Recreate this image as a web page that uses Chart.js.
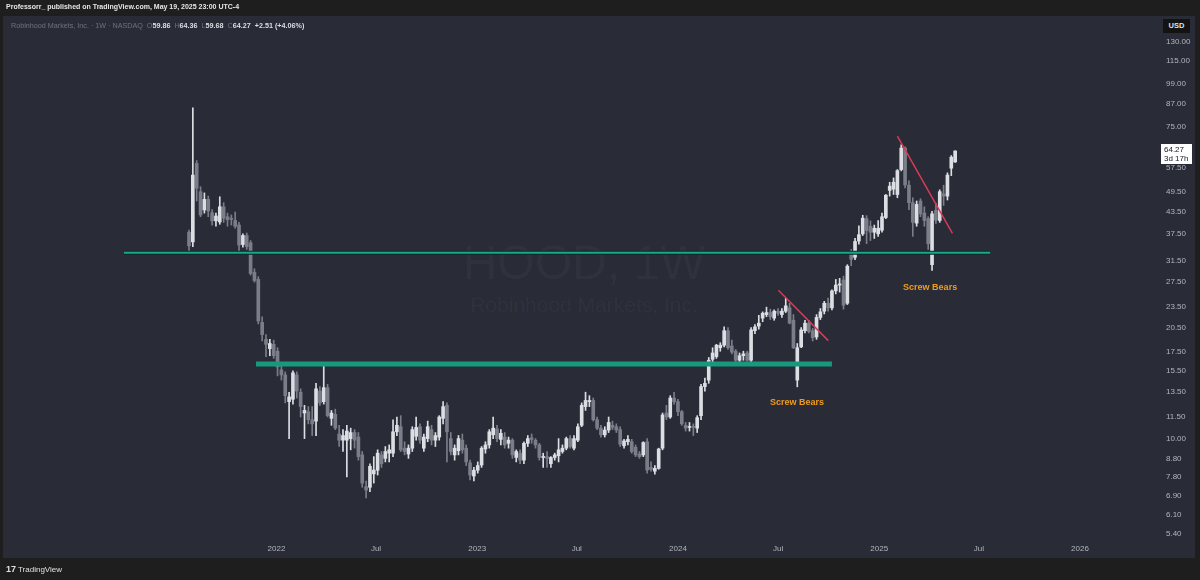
<!DOCTYPE html>
<html>
<head>
<meta charset="utf-8">
<title>HOOD, 1W</title>
<script src="https://cdn.jsdelivr.net/npm/chart.js@4.4.0/dist/chart.umd.min.js"></script>
<style>
  html, body { margin: 0; padding: 0; background: #1e1e1e; }
  #wrap { position: relative; width: 1200px; height: 580px; overflow: hidden; font-family: "Liberation Sans", Arial, sans-serif; }
  #pane { position: absolute; left: 3px; top: 16px; width: 1192px; height: 542px; background: #292c37; }
  .wm { position: absolute; left: 0; width: 1168px; text-align: center; color: rgba(255,255,255,0.035); line-height: 1; white-space: nowrap; }
  #wm1 { top: 239px; font-size: 48px; }
  #wm2 { top: 294px; font-size: 21px; }
  canvas { position: absolute; left: 0; top: 0; }
  #head1 { position: absolute; left: 6px; top: 3px; font-size: 7px; font-weight: bold; color: #e6e6e6; white-space: nowrap; }
  #head2 { position: absolute; left: 11px; top: 21px; font-size: 7.2px; color: #6f7280; white-space: nowrap; }
  #head2 b { color: #dcdee3; }
  #usd { position: absolute; left: 1163px; top: 19px; width: 27px; height: 14px; background: #131313; color: #e0e0e0; font-size: 7.5px; font-weight: bold; text-align: center; line-height: 14px; }
  #foot { position: absolute; left: 6px; top: 564px; font-size: 8px; color: #e0e0e0; white-space: nowrap; }
  #foot b { font-size: 9px; margin-right: 2px; }
</style>
</head>
<body>
<div id="wrap">
  <div id="pane"></div>
  <div class="wm" id="wm1">HOOD, 1W</div>
  <div class="wm" id="wm2">Robinhood Markets, Inc.</div>
  <canvas id="chart" width="1200" height="580"></canvas>
  <div id="head1">Professorr_ published on TradingView.com, May 19, 2025 23:00 UTC-4</div>
  <div id="head2">Robinhood Markets, Inc. · 1W · NASDAQ &nbsp;O<b>59.86</b> &nbsp;H<b>64.36</b> &nbsp;L<b>59.68</b> &nbsp;C<b>64.27</b> &nbsp;<b>+2.51 (+4.06%)</b></div>
  <div id="usd">USD</div>
  <div id="foot"><b>17</b>TradingView</div>
</div>
<script>
// weekly candles, week 0 = week of 2021-07-26
const firstWeek = '2021-07-26';

const opens = [
  38.0, 35.7, 59.3, 49.4, 43.9, 47.0, 43.1, 40.9, 40.6, 44.8,
  42.0, 41.6, 41.0, 39.8, 35.1, 37.2, 35.5, 29.3, 28.0, 21.2,
  19.0, 17.9, 18.4, 17.6, 15.6, 15.1, 12.7, 12.9, 15.1, 13.5,
  11.8, 11.9, 11.3, 11.2, 13.6, 12.7, 13.9, 11.4, 11.7, 10.3,
  9.9, 9.9, 10.0, 10.4, 10.1, 9.0, 7.33, 7.3, 7.96, 8.15,
  9.0, 8.8, 9.1, 9.1, 10.45, 10.8, 9.4, 9.05, 9.4, 10.15,
  10.8, 9.4, 10.0, 10.6, 9.9, 10.1, 11.4, 12.4, 10.0, 9.0,
  9.25, 9.9, 9.4, 8.55, 7.85, 8.15, 8.43, 9.35, 9.6, 10.25,
  10.65, 9.95, 10.1, 9.7, 9.9, 8.85, 9.1, 8.7, 9.7, 10.05,
  9.9, 9.6, 8.85, 8.9, 8.5, 8.85, 8.95, 9.2, 9.4, 10.0,
  9.4, 9.9, 10.9, 12.3, 12.7, 12.8, 11.3, 10.7, 10.25, 10.57,
  10.9, 10.8, 10.6, 9.55, 9.8, 9.8, 9.45, 9.05, 9.0, 9.8,
  8.3, 8.1, 8.25, 9.4, 11.8, 11.5, 13.0, 12.7, 11.9, 10.9,
  10.75, 10.8, 10.7, 11.6, 14.0, 14.6, 16.7, 17.0, 18.0, 18.3,
  20.1, 18.2, 17.6, 16.6, 17.1, 17.4, 16.6, 20.1, 20.7, 21.8,
  22.3, 22.6, 21.8, 22.8, 22.3, 22.8, 23.3, 21.5, 14.6, 18.1,
  20.1, 21.1, 20.1, 19.3, 21.9, 22.8, 24.0, 23.3, 26.0, 27.0,
  27.9, 24.0, 32.9, 32.3, 35.9, 37.6, 41.5, 39.5, 38.0, 37.6,
  38.5, 41.8, 49.8, 50.2, 48.5, 57.0, 65.5, 51.5, 46.0, 40.3,
  46.5, 43.0, 41.5, 30.8, 43.8, 41.0, 48.7, 48.0, 57.5, 59.86
];
const highs = [
  38.5, 85.0, 60.4, 51.0, 49.0, 48.0, 44.0, 43.0, 47.8, 46.0,
  43.0, 42.5, 43.3, 40.5, 37.6, 37.8, 36.0, 30.0, 28.5, 22.0,
  19.6, 19.0, 18.9, 18.0, 16.0, 15.4, 13.5, 15.5, 15.4, 13.8,
  12.4, 12.3, 12.3, 14.3, 14.0, 16.0, 14.2, 12.0, 12.1, 10.9,
  10.6, 10.9, 10.7, 10.6, 10.4, 9.2, 7.6, 8.5, 8.9, 9.3,
  9.2, 9.5, 9.6, 11.3, 11.5, 11.6, 9.8, 9.6, 10.8, 11.5,
  11.0, 10.3, 11.2, 10.9, 10.4, 11.6, 12.7, 12.6, 10.4, 9.6,
  10.2, 10.3, 9.6, 8.7, 8.3, 8.6, 9.5, 9.8, 10.6, 11.5,
  10.9, 10.6, 10.4, 10.1, 10.0, 9.3, 9.3, 9.8, 10.2, 10.3,
  10.0, 9.7, 9.1, 9.2, 8.9, 9.1, 10.0, 9.6, 10.1, 10.2,
  10.2, 11.0, 12.6, 13.5, 13.2, 13.0, 11.5, 10.9, 10.8, 11.5,
  11.2, 11.0, 10.8, 9.95, 10.2, 9.95, 9.6, 9.2, 9.8, 10.0,
  8.6, 8.4, 9.4, 11.8, 12.4, 13.2, 13.5, 12.9, 12.0, 11.1,
  11.1, 11.0, 11.6, 14.2, 14.8, 16.9, 18.0, 18.4, 18.6, 20.6,
  20.5, 18.9, 17.8, 17.4, 17.6, 17.6, 20.5, 20.9, 22.2, 22.7,
  23.4, 23.1, 23.0, 23.2, 23.2, 24.8, 24.0, 22.3, 18.5, 20.5,
  21.5, 21.5, 20.4, 22.3, 23.2, 24.3, 24.8, 26.2, 28.0, 28.2,
  28.6, 30.8, 34.0, 36.5, 39.6, 42.4, 42.3, 40.9, 39.8, 41.0,
  43.0, 48.5, 52.5, 54.0, 57.0, 66.9, 66.0, 53.0, 47.5, 46.5,
  47.2, 44.8, 42.0, 43.5, 45.8, 50.0, 51.5, 55.8, 62.4, 64.36
];
const lows = [
  33.2, 34.6, 46.5, 42.0, 43.0, 42.0, 39.8, 39.5, 40.0, 40.5,
  39.5, 39.8, 39.0, 33.6, 34.5, 34.0, 28.8, 27.5, 21.0, 18.8,
  17.0, 17.1, 16.8, 15.0, 14.6, 12.6, 10.0, 12.5, 13.0, 11.5,
  10.0, 11.0, 10.2, 10.2, 12.4, 12.5, 11.5, 10.9, 10.6, 9.5,
  9.2, 7.8, 9.3, 9.4, 8.7, 7.3, 6.81, 7.1, 7.5, 7.9,
  8.3, 8.6, 8.6, 8.9, 10.2, 9.2, 9.0, 8.8, 9.2, 9.9,
  9.7, 9.2, 9.8, 9.6, 9.5, 9.9, 11.0, 8.6, 9.0, 8.7,
  9.0, 9.1, 8.4, 7.65, 7.6, 8.0, 8.3, 9.1, 9.4, 10.0,
  9.8, 9.6, 9.4, 9.4, 8.8, 8.6, 8.5, 8.5, 9.5, 9.7,
  9.4, 8.7, 8.3, 8.3, 8.3, 8.7, 8.6, 9.1, 9.3, 9.4,
  9.3, 9.8, 10.8, 12.0, 12.3, 11.2, 10.6, 10.1, 10.1, 10.4,
  10.6, 10.4, 9.5, 9.4, 9.6, 9.1, 8.9, 8.8, 8.9, 8.0,
  8.1, 7.95, 8.2, 9.3, 11.3, 11.4, 12.5, 11.6, 10.9, 10.5,
  10.5, 10.2, 10.4, 11.3, 13.6, 14.3, 16.2, 16.8, 17.6, 18.1,
  17.8, 17.3, 16.3, 16.4, 16.6, 16.5, 16.4, 19.7, 20.3, 21.3,
  22.0, 21.6, 21.5, 22.2, 21.9, 22.6, 21.0, 17.9, 13.98, 18.0,
  19.8, 19.8, 18.8, 19.0, 21.6, 22.4, 22.8, 23.0, 25.5, 25.8,
  23.1, 23.8, 30.6, 31.8, 35.2, 37.2, 35.3, 36.0, 36.5, 37.0,
  38.0, 41.5, 48.0, 48.5, 47.5, 56.5, 50.6, 44.0, 37.0, 39.5,
  42.0, 39.5, 34.0, 29.66, 40.2, 40.5, 45.2, 46.8, 54.8, 59.68
];
const closes = [
  34.8, 55.0, 50.5, 42.5, 47.0, 43.6, 40.9, 42.2, 44.8, 41.6,
  41.2, 41.3, 39.5, 35.0, 37.2, 34.6, 29.1, 27.8, 21.4, 19.6,
  18.4, 18.5, 17.1, 15.9, 15.1, 13.2, 13.1, 15.3, 13.6, 12.3,
  12.0, 11.3, 11.0, 13.8, 12.6, 13.9, 11.6, 11.8, 10.7, 9.9,
  10.2, 10.5, 10.4, 9.9, 8.9, 7.5, 7.17, 8.36, 8.16, 9.1,
  8.5, 9.2, 9.3, 10.45, 10.9, 9.3, 9.2, 9.4, 10.6, 10.75,
  9.9, 10.1, 10.8, 9.9, 10.2, 11.5, 12.3, 10.45, 9.2, 9.4,
  10.0, 9.3, 8.6, 7.9, 8.15, 8.4, 9.4, 9.6, 10.45, 10.7,
  10.0, 10.35, 9.6, 9.9, 9.0, 9.2, 8.7, 9.7, 10.0, 9.95,
  9.6, 8.85, 8.9, 8.8, 8.85, 9.0, 9.3, 9.4, 10.0, 9.5,
  10.0, 10.8, 12.4, 12.8, 12.8, 11.3, 10.7, 10.25, 10.57, 11.1,
  10.75, 10.57, 9.65, 9.85, 9.95, 9.2, 9.0, 8.9, 9.75, 8.16,
  8.2, 8.25, 9.35, 11.65, 11.5, 13.0, 12.7, 11.9, 11.0, 10.7,
  10.8, 10.75, 11.45, 14.0, 14.3, 16.6, 17.4, 18.3, 18.3, 20.1,
  18.0, 17.5, 16.6, 17.1, 17.3, 16.6, 20.2, 20.6, 21.1, 22.5,
  22.6, 22.0, 22.8, 22.5, 22.8, 23.6, 21.1, 18.0, 18.0, 20.2,
  21.1, 20.0, 19.2, 21.9, 22.7, 24.0, 23.3, 26.0, 27.0, 27.2,
  23.7, 30.5, 31.9, 35.8, 37.4, 41.6, 38.4, 38.0, 39.0, 39.0,
  42.0, 48.3, 51.2, 52.5, 56.6, 65.5, 51.6, 46.0, 40.5, 45.5,
  42.8, 41.0, 35.3, 42.8, 41.1, 49.4, 48.0, 55.0, 61.76, 64.27
];

// price axis ticks
const priceTicks = [130, 115, 99, 87, 75, 57.5, 49.5, 43.5, 37.5, 31.5, 27.5, 23.5, 20.5,
  17.5, 15.5, 13.5, 11.5, 10, 8.8, 7.8, 6.9, 6.1, 5.4];
// time axis ticks
const timeDates = ['2022-01-01', '2022-07-01', '2023-01-01', '2023-07-01', '2024-01-01',
  '2024-07-01', '2025-01-01', '2025-07-01', '2026-01-01'];
const timeLabels = ['2022', 'Jul', '2023', 'Jul', '2024', 'Jul', '2025', 'Jul', '2026'];

// drawings, as [week, price]
const upperLevel = [[-16.9, 33.3], [208.1, 33.3]];
const lowerLevel = [[17.4, 16.2], [167.0, 16.2]];
const trendA = [[153.1, 26.1], [166.05, 18.85]];
const trendB = [[184.0, 70.8], [198.3, 37.7]];
const noteWeeks = [157.9, 192.5];
const notePrices = [12.6, 26.5];
const noteTexts = ['Screw Bears', 'Screw Bears'];
const lastTag = '3d 17h';

const upColor = '#dcdee3';
const downColor = '#7b7e89';

function weekOf(d) {
  return (new Date(d + 'T00:00:00Z') - new Date(firstWeek + 'T00:00:00Z')) / (7 * 86400000);
}
const timeWeeks = timeDates.map(weekOf);

const candleColor = c => closes[c.dataIndex] >= opens[c.dataIndex] ? upColor : downColor;
const toPts = arr => arr.map(p => ({ x: p[0], y: p[1] }));

const wickData = highs.map((h, i) => ({ x: i, y: [lows[i], h] }));
const bodyData = opens.map((o, i) => ({ x: i, y: [o, closes[i]] }));

// first dataset in the list ends up on top
function lineSet(points, color, width) {
  return {
    type: 'line', data: toPts(points), borderColor: color, borderWidth: width,
    pointRadius: 0, fill: false, tension: 0, order: 0
  };
}

const overlay = {
  id: 'overlay',
  afterDatasetsDraw(chart) {
    const { ctx, scales: { x, y }, chartArea } = chart;
    ctx.save();
    // notes
    ctx.font = 'bold 9px "Liberation Sans", Arial, sans-serif';
    ctx.fillStyle = '#ef9b20';
    ctx.textAlign = 'center';
    ctx.textBaseline = 'middle';
    noteTexts.forEach((t, i) => {
      ctx.fillText(t, x.getPixelForValue(noteWeeks[i]), y.getPixelForValue(notePrices[i]));
    });
    // last price tag
    const last = closes[closes.length - 1];
    const py = Math.round(y.getPixelForValue(last));
    const left = chartArea.right + 3;
    ctx.fillStyle = '#ffffff';
    ctx.fillRect(left, py - 7, 31, 20);
    ctx.fillStyle = '#131722';
    ctx.font = '8px "Liberation Sans", Arial, sans-serif';
    ctx.textAlign = 'left';
    ctx.fillText(last.toFixed(2), left + 3, py - 1);
    ctx.fillText(lastTag, left + 3, py + 8);
    ctx.restore();
  }
};

new Chart(document.getElementById('chart'), {
  type: 'bar',
  data: {
    datasets: [
      lineSet(trendA, '#d93a55', 1.5),
      lineSet(trendB, '#d93a55', 1.5),
      lineSet(upperLevel, '#1aa68b', 2),
      lineSet(upperLevel, '#0e2b28', 4),
      lineSet(lowerLevel, '#16997f', 5),
      {
        label: 'body', data: bodyData, backgroundColor: candleColor,
        barThickness: 3, minBarLength: 1, grouped: false, order: 1
      },
      {
        label: 'wick', data: wickData, backgroundColor: candleColor,
        barThickness: 1, grouped: false, order: 2
      }
    ]
  },
  options: {
    responsive: false,
    animation: false,
    layout: { padding: { left: 3, top: 17, right: 5, bottom: 22 } },
    plugins: { legend: { display: false }, tooltip: { enabled: false } },
    scales: {
      x: {
        type: 'linear', min: -48.31, max: 251.69, offset: false,
        grid: { display: false, drawTicks: false }, border: { display: false },
        afterBuildTicks: s => { s.ticks = timeWeeks.map(v => ({ value: v })); },
        afterFit: s => { s.height = 18; },
        ticks: {
          autoSkip: false, maxRotation: 0, padding: 4, color: '#b2b5be',
          font: { size: 8, family: '"Liberation Sans", Arial, sans-serif' },
          callback: (v, i) => timeLabels[i]
        }
      },
      y: {
        type: 'logarithmic', position: 'right', min: 5.19, max: 152.9,
        grid: { display: false, drawTicks: false }, border: { display: false },
        afterBuildTicks: s => { s.ticks = priceTicks.map(v => ({ value: v })); },
        afterFit: s => { s.width = 37; },
        ticks: {
          autoSkip: false, padding: 8, color: '#b2b5be',
          font: { size: 8, family: '"Liberation Sans", Arial, sans-serif' },
          callback: v => Number(v).toFixed(2)
        }
      }
    }
  },
  plugins: [overlay]
});
</script>
</body>
</html>
